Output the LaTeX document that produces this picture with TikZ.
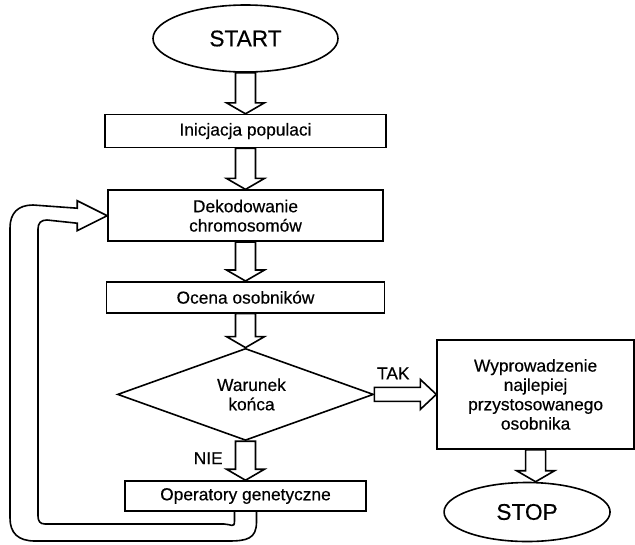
\documentclass[tikz,border=0pt]{standalone}
\usepackage{fontspec}
\setmainfont{Liberation Sans}[FakeBold=0.4]
\usetikzlibrary{shapes.geometric, positioning, calc}

\begin{document}
\begin{tikzpicture}[
    x=0.75pt, y=-0.75pt,
    line width=1.2pt,
    terminal/.style={ellipse, draw, inner sep=0pt, font=\fontsize{17}{20}\selectfont},
    stepbox/.style={rectangle, draw, inner sep=0pt, align=center, font=\fontsize{13}{14.5}\selectfont},
    decision/.style={diamond, draw, inner sep=0pt, aspect=2.78, align=center, font=\fontsize{13}{14.5}\selectfont},
    blockarrow/.style={draw, fill=white, line join=miter},
    loopband/.style={draw, line join=miter},
    answer/.style={inner sep=0pt, font=\fontsize{13}{15}\selectfont}
]

\useasboundingbox (0,0) rectangle (635,544);

% === Main column ===
\node[terminal, minimum width=138.75pt, minimum height=50.25pt] (start) at (245.5,38.5) {START};
\node[stepbox, below=30.75pt of start, minimum width=210.75pt, minimum height=24.75pt] (init) {Inicjacja populaci};
\node[stepbox, below=30.75pt of init, minimum width=206.25pt, minimum height=38.25pt] (decode) {Dekodowanie\\chromosomów};
\node[stepbox, below=29.25pt of decode, minimum width=208.5pt, minimum height=23.25pt] (eval) {Ocena osobników};
\node[decision, below=25.5pt of eval, minimum width=192pt, minimum height=69pt] (cond) {\hspace*{9pt}Warunek\\\hspace*{9pt}końca};
\node[stepbox, below=29.25pt of cond, minimum width=180.75pt, minimum height=22.5pt] (genop) {Operatory genetyczne};

% === Exit branch ===
\node[stepbox, right=46.5pt of cond, minimum width=147.75pt, minimum height=81.75pt] (best) {Wyprowadzenie\\najlepiej\\przystosowanego\\osobnika};
\node[terminal, below=24pt of best, xshift=-6.4pt, minimum width=124.5pt, minimum height=44.25pt] (stop) {STOP};

% === Hollow arrows ===
\foreach \a/\b in {start/init, init/decode, decode/eval, eval/cond, cond/genop, best/stop}{
    \draw[blockarrow] ($(\a.south)+(-10,0)$) -- ($(\a.south |- \b.north)+(-10,-11)$) -- ++(-9,0)
        -- (\a.south |- \b.north) -- ++(19,-11) -- ++(-9,0) -- ($(\a.south)+(10,0)$) -- cycle;
}

% Yes branch
\draw[blockarrow] ($(cond.east)+(0,-7)$) -- ($(best.west)+(-16,-7)$) -- ++(0,-8)
    -- (best.west) -- ++(-16,15) -- ++(0,-8) -- ($(cond.east)+(0,7)$) -- cycle;

% Feedback loop
\draw[loopband] ($(genop.south)+(11,0)$) -- ++(0,10) .. controls +(0,17) and (247,541) .. (228,541)
    -- (35,541) .. controls (18,541) and (10,533) .. (10,518)
    -- (10,228) .. controls (10,213) and (18,205) .. (33,205)
    -- ($(decode.west)+(-30,-7.5)$) -- ++(0,-7.5) -- (decode.west) -- ++(-30,15) -- ++(0,-7.5)
    -- (47,220) .. controls (41,220) and (38,223) .. (38,229)
    -- (38,516) .. controls (38,521) and (40,524) .. (45,524)
    -- (224,524) .. controls (231,524) and ($(genop.south)+(-11,17)$) .. ($(genop.south)+(-11,9)$)
    -- ($(genop.south)+(-11,0)$);

% === Labels ===
\node[answer, anchor=base west] (yes) at ($(cond.east)+(2,-15)$) {TAK};
\node[answer, anchor=base east] (no) at ($(cond.south)+(-22,23)$) {NIE};

\end{tikzpicture}
\end{document}
